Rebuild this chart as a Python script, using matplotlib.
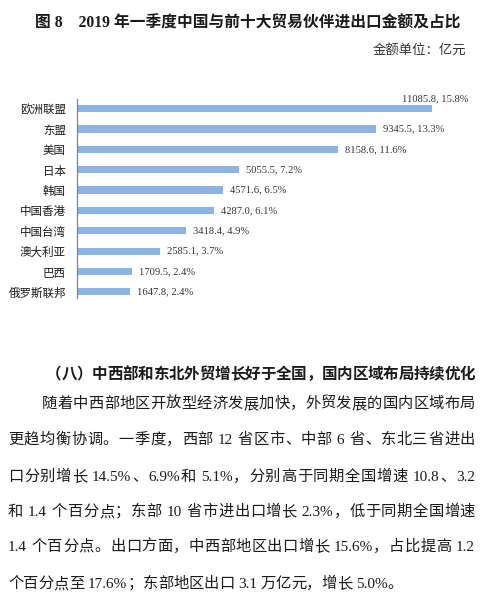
import re
import matplotlib
matplotlib.use("Agg")
from matplotlib import pyplot as plt

# datos del gráfico
paises = ["欧洲联盟", "东盟", "美国", "日本", "韩国", "中国香港", "中国台湾", "澳大利亚", "巴西", "俄罗斯联邦"]
montos = [11085.8, 9345.5, 8158.6, 5055.5, 4571.6, 4287.0, 3418.4, 2585.1, 1709.5, 1647.8]
porcentajes = [15.8, 13.3, 11.6, 7.2, 6.5, 6.1, 4.9, 3.7, 2.4, 2.4]

titulo = "图 8    2019 年一季度中国与前十大贸易伙伴进出口金额及占比"
unidad = "金额单位：亿元"
encabezado = "（八）中西部和东北外贸增长好于全国，国内区域布局持续优化"
parrafo = [
    "随着中西部地区开放型经济发展加快，外贸发展的国内区域布局",
    "更趋均衡协调。一季度，西部 12 省区市、中部 6 省、东北三省进出",
    "口分别增长 14.5%、6.9%和 5.1%，分别高于同期全国增速 10.8、3.2",
    "和 1.4 个百分点；东部 10 省市进出口增长 2.3%，低于同期全国增速",
    "1.4 个百分点。出口方面，中西部地区出口增长 15.6%，占比提高 1.2",
    "个百分点至 17.6%；东部地区出口 3.1 万亿元，增长 5.0%。",
]

W, H = 484, 602
MEZCLA = ["Liberation Serif", "Noto Sans CJK SC"]
plt.rcParams["font.family"] = MEZCLA

fig = plt.figure(figsize=(W / 100, H / 100), dpi=100)
fig.patch.set_facecolor("white")


def px(x, y):
    return x / W, 1 - y / H


# titulo y unidad
fig.text(*px(248, 24), titulo, ha="center", va="center", fontsize=11.3,
         weight="bold", color="#1a1a1a")
fig.text(*px(466, 50), unidad, ha="right", va="center", fontsize=9.6,
         family=["Noto Sans CJK SC"], color="#333333")

# grafico de barras
ax = fig.add_axes([77 / W, 1 - 298 / H, 393 / W, 199 / H])
pos = list(range(len(paises)))
ax.barh(pos, montos, height=0.35, color="#8db3e2", left=0)
ax.set_ylim(9.3, -0.47)
ax.set_xlim(0, 11085.8 * 393 / 355)
ax.set_yticks(pos)
ax.set_yticklabels(paises, family=["Noto Sans CJK SC"], fontsize=8.3, color="#1a1a1a")
ax.tick_params(axis="y", length=0, pad=8)
ax.set_xticks([])
for s in ["top", "right", "bottom"]:
    ax.spines[s].set_visible(False)
ax.spines["left"].set_color("#7a8797")
ax.spines["left"].set_linewidth(0.9)

for i, (m, p) in enumerate(zip(montos, porcentajes)):
    etiqueta = f"{m:.1f}, {p:.1f}%"
    if i == 0:
        ax.annotate(etiqueta, (m, i), xytext=(3, 9.5), textcoords="offset pixels",
                    ha="center", va="center", fontsize=7.6, family=["Liberation Serif"],
                    color="#333333")
    else:
        ax.annotate(etiqueta, (m, i), xytext=(7, 0), textcoords="offset pixels",
                    ha="left", va="center", fontsize=7.6, family=["Liberation Serif"],
                    color="#333333")

renderer = fig.canvas.get_renderer()


def linea(texto, x0, x1, yb, tam, justificar=True, **kw):
    # separar en trozos: caracteres chinos sueltos, grupos latinos y espacios
    trozos = re.findall(r"[A-Za-z0-9.%]+|\s|.", texto)
    anchos = []
    objs = []
    for t in trozos:
        if t.isspace():
            anchos.append(tam * 0.25 * 100 / 72)
            objs.append(None)
        else:
            o = fig.text(0, 0, t, fontsize=tam, va="baseline", ha="left", **kw)
            anchos.append(o.get_window_extent(renderer).width)
            objs.append(o)
    extra = 0
    if justificar and len(trozos) > 1:
        extra = (x1 - x0 - sum(anchos)) / (len(trozos) - 1)
    x = x0
    for o, a in zip(objs, anchos):
        if o is not None:
            o.set_position(px(x, yb))
        x += a + extra


# encabezado de seccion
linea(encabezado, 46, 475, 378.5, 11.2, weight="bold", color="#1a1a1a",
      family=["Noto Sans CJK SC"])

# parrafo
ys = [408, 444, 481, 516, 551, 588]
for k, (t, yb) in enumerate(zip(parrafo, ys)):
    x0 = 42 if k == 0 else 8
    linea(t, x0, 475, yb, 11, justificar=(k < len(parrafo) - 1), color="#1a1a1a")

fig.savefig("out.png", dpi=100)
